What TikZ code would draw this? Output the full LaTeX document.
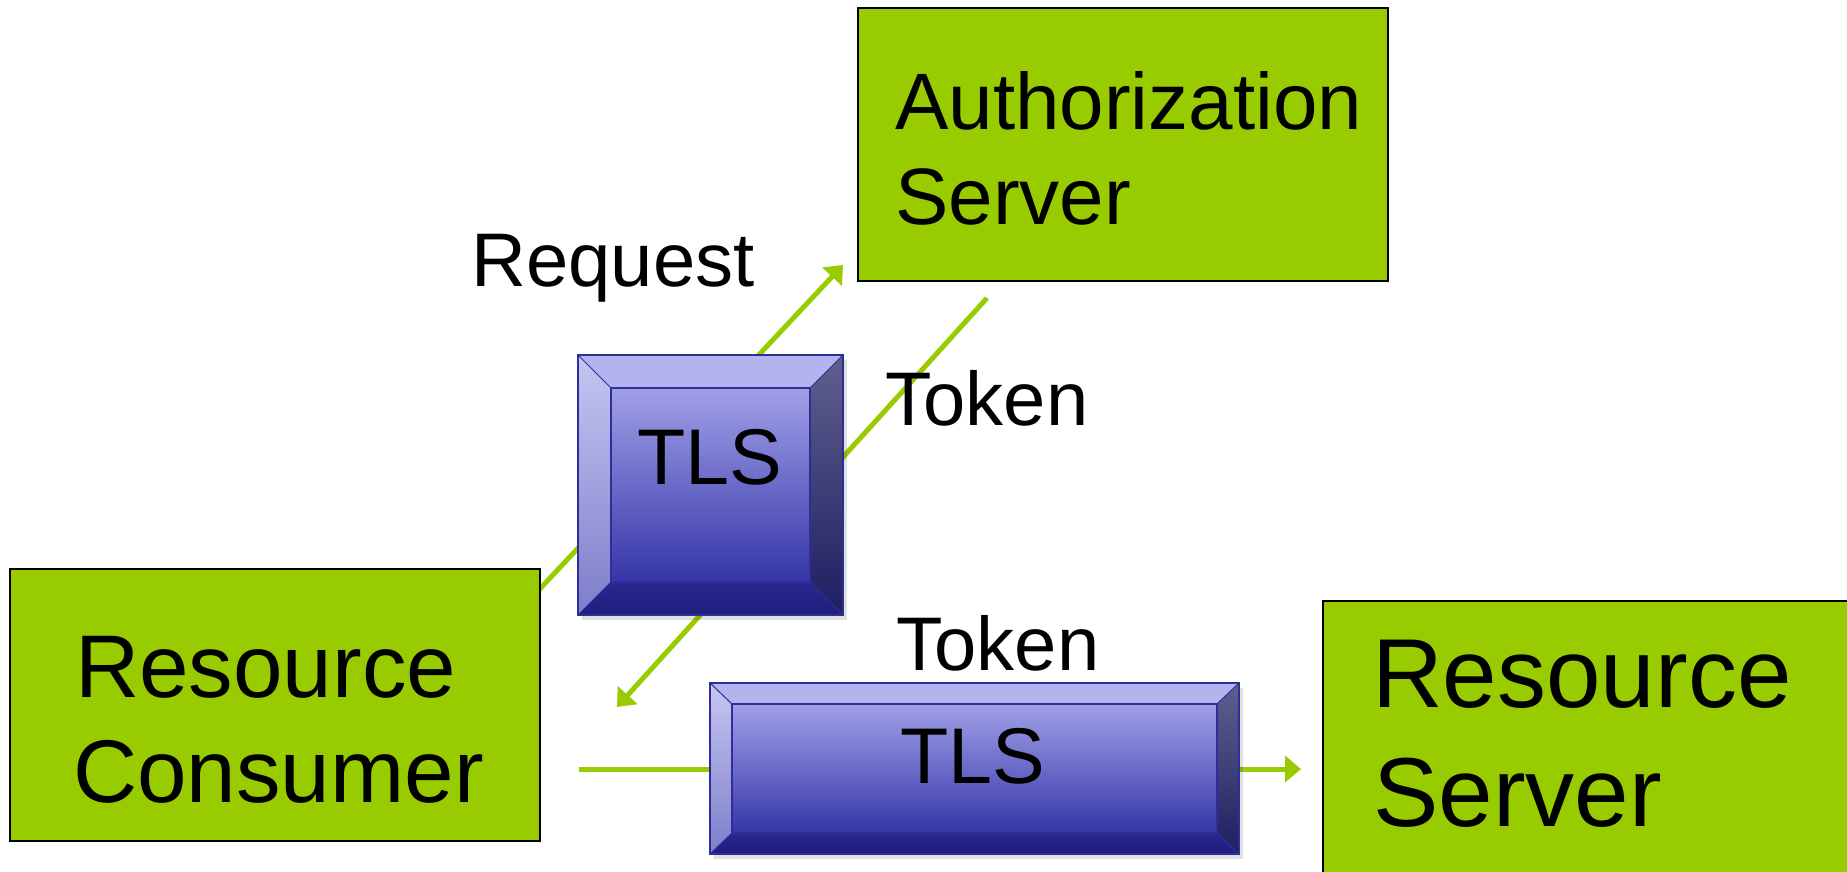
\documentclass[tikz,border=0pt]{standalone}
\usepackage{fontspec}
\setmainfont{Liberation Sans}
\usetikzlibrary{arrows.meta}

\definecolor{leaf}{HTML}{99CC00}
\definecolor{bvedge}{HTML}{2E2E9A}
\definecolor{bvtopface}{HTML}{B3B3EE}
\definecolor{bvlefthi}{HTML}{C6C6F2}
\definecolor{bvleftlo}{HTML}{7D7DCB}
\definecolor{bvrighthi}{HTML}{60608E}
\definecolor{bvrightlo}{HTML}{1E1E62}
\definecolor{bvbottomhi}{HTML}{28288E}
\definecolor{bvbottomlo}{HTML}{1E1E7E}
\definecolor{bvfacehi}{HTML}{A0A0E8}
\definecolor{bvfacemid}{HTML}{8585D8}
\definecolor{bvfacelo}{HTML}{3535A8}

\tikzset{
  greenbox/.style={draw=black, line width=2.5pt, fill=leaf, inner sep=0pt},
  flow/.style={draw=leaf, line width=5pt, -{Triangle[length=16pt,width=26pt]}},
  facet/.style={draw=bvedge, line width=1.5pt, line join=miter},
  caption/.style={inner sep=0pt, text=black},
}

% Bevelled block: corners (#1,#2)-(#3,#4), bevel widths #5 (sides) and #6 (top/bottom)
\newcommand\bevelblock[6]{%
  \fill[black, opacity=0.12] (#1+4,#2+5) rectangle (#3+4,#4+5);
  \fill[bvtopface] (#1,#2) -- (#3,#2) -- (#3-#5,#2+#6) -- (#1+#5,#2+#6) -- cycle;
  \shade[top color=bvlefthi, bottom color=bvleftlo]
    (#1,#2) -- (#1+#5,#2+#6) -- (#1+#5,#4-#6) -- (#1,#4) -- cycle;
  \shade[top color=bvrighthi, bottom color=bvrightlo]
    (#3,#2) -- (#3-#5,#2+#6) -- (#3-#5,#4-#6) -- (#3,#4) -- cycle;
  \shade[top color=bvbottomhi, bottom color=bvbottomlo]
    (#1,#4) -- (#1+#5,#4-#6) -- (#3-#5,#4-#6) -- (#3,#4) -- cycle;
  \shade[top color=bvfacehi, middle color=bvfacemid, bottom color=bvfacelo]
    (#1+#5,#2+#6) rectangle (#3-#5,#4-#6);
  \draw[facet] (#1,#2) rectangle (#3,#4);
  \draw[facet] (#1+#5,#2+#6) rectangle (#3-#5,#4-#6);
  \draw[facet, line width=1pt] (#1,#2) -- (#1+#5,#2+#6) (#3,#2) -- (#3-#5,#2+#6)
    (#1,#4) -- (#1+#5,#4-#6) (#3,#4) -- (#3-#5,#4-#6);
}

\begin{document}
\begin{tikzpicture}[x=1pt, y=-1pt]
\useasboundingbox (0,0) rectangle (1847,871);
\clip (0,0) rectangle (1847,871);
\fill[white] (0,0) rectangle (1847,871);

% connector end points
\coordinate (reqS) at (536,593);
\coordinate (reqE) at (843,265);
\coordinate (tokS) at (987,298);
\coordinate (tokE) at (617,707);
\coordinate (useS) at (579,769);
\coordinate (useE) at (1301,769);

% connectors (behind the TLS blocks)
\draw[flow] (reqS) -- (reqE);
\draw[flow] (tokS) -- (tokE);
\draw[flow] (useS) -- (useE);

% parties
\node[greenbox, minimum width=530pt, minimum height=273pt] (authz) at (1123,144.5) {};
\node[greenbox, minimum width=530pt, minimum height=272pt] (consumer) at (275,705) {};
\node[greenbox, minimum width=600pt, minimum height=350pt] (rserver) at (1623,776) {};

\node[caption, anchor=base west, font=\fontsize{80}{80}\selectfont] (authzA) at (895,129) {Authorization};
\node[caption, anchor=base west, font=\fontsize{80}{80}\selectfont] (authzB) at (895,224) {Server};

\node[caption, anchor=base west, font=\fontsize{89}{89}\selectfont] (consumerA) at (75,697) {Resource};
\node[caption, anchor=base west, font=\fontsize{89}{89}\selectfont] (consumerB) at (73,802) {Consumer};

\node[caption, anchor=base west, font=\fontsize{98}{98}\selectfont] (rserverA) at (1372,707) {Resource};
\node[caption, anchor=base west, font=\fontsize{98}{98}\selectfont] (rserverB) at (1373,826) {Server};

% TLS blocks
\bevelblock{578}{355}{843}{615}{33}{33}
\node[caption, anchor=base, font=\fontsize{79}{79}\selectfont] (tlsA) at (710,484) {TLS};

\bevelblock{710}{683}{1239}{854}{22}{21}
\node[caption, anchor=base, font=\fontsize{79}{79}\selectfont] (tlsB) at (973,783) {TLS};

% labels
\node[caption, anchor=base, font=\fontsize{76}{76}\selectfont] (reqL) at (613,286) {Request};
\node[caption, anchor=base, font=\fontsize{76}{76}\selectfont] (tokL) at (987,425) {Token};
\node[caption, anchor=base, font=\fontsize{76}{76}\selectfont] (tokL2) at (998,670) {Token};
\end{tikzpicture}
\end{document}
